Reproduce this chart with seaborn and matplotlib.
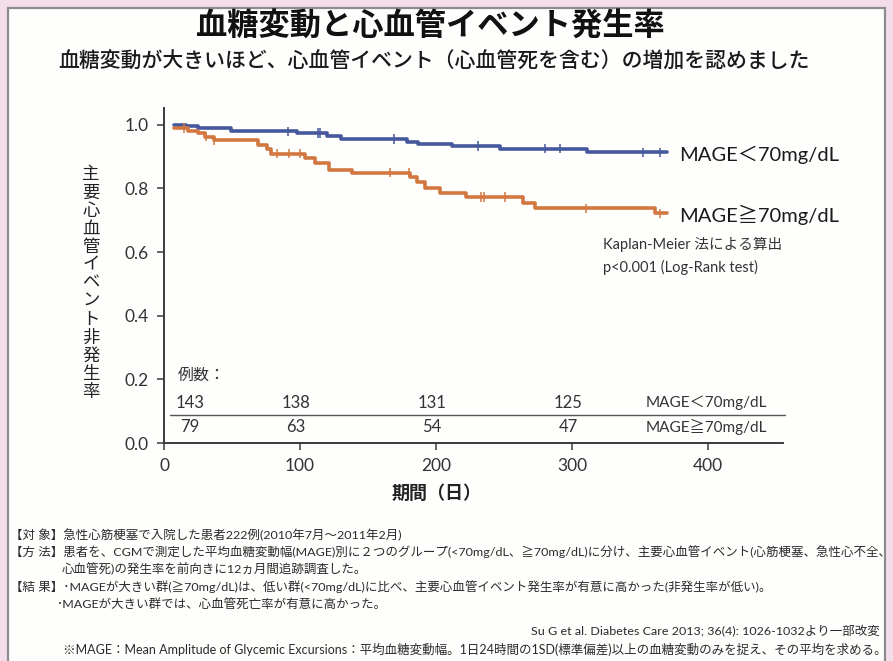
import numpy as np
import pandas as pd
import matplotlib
matplotlib.use("Agg")
import matplotlib.pyplot as plt
import seaborn as sns
from matplotlib.patches import Rectangle
from matplotlib.ticker import FormatStrFormatter

# ---------------- data ----------------
groups = ["MAGE＜70mg/dL", "MAGE≧70mg/dL"]
colors = ["#46589c", "#d2773f"]

low_t = [7, 16, 25, 49, 98, 120, 130, 179, 187, 212, 247, 311, 370]
low_s = [1.0, 0.995, 0.99, 0.98, 0.974, 0.965, 0.956, 0.947, 0.940, 0.934, 0.925, 0.914, 0.914]
high_t = [7, 18, 25, 30, 37, 69, 76, 79, 104, 111, 121, 138, 181, 186, 192, 203, 222, 264, 273, 361, 370]
high_s = [0.99, 0.982, 0.974, 0.963, 0.951, 0.937, 0.923, 0.909, 0.895, 0.88, 0.858, 0.85,
          0.837, 0.819, 0.801, 0.787, 0.773, 0.754, 0.738, 0.722, 0.722]
low_cens = [91, 113, 115, 169, 231, 280, 291, 352, 365]
high_cens = [15, 31, 37, 83, 92, 100, 166, 180, 233, 235, 251, 310, 365]

risk_times = [19, 97, 197, 297]
risk_low = [143, 138, 131, 125]
risk_high = [79, 63, 54, 47]

x_ticks = [0, 100, 200, 300, 400]
y_ticks = [0.0, 0.2, 0.4, 0.6, 0.8, 1.0]

title = "血糖変動と心血管イベント発生率"
subtitle = "血糖変動が大きいほど、心血管イベント（心血管死を含む）の増加を認めました"
ylabel = "主要心血管イベント非発生率"
xlabel = "期間（日）"
km_note = ["Kaplan-Meier 法による算出", "p<0.001 (Log-Rank test)"]
notes = [
    "【対 象】急性心筋梗塞で入院した患者222例(2010年7月～2011年2月)",
    "【方 法】患者を、CGMで測定した平均血糖変動幅(MAGE)別に２つのグループ(<70mg/dL、≧70mg/dL)に分け、主要心血管イベント(心筋梗塞、急性心不全、",
    "心血管死)の発生率を前向きに12ヵ月間追跡調査した。",
    "【結 果】･MAGEが大きい群(≧70mg/dL)は、低い群(<70mg/dL)に比べ、主要心血管イベント発生率が有意に高かった(非発生率が低い)。",
    "･MAGEが大きい群では、心血管死亡率が有意に高かった。",
]
citation = "Su G et al. Diabetes Care 2013; 36(4): 1026-1032より一部改変"
footnote = "※MAGE：Mean Amplitude of Glycemic Excursions：平均血糖変動幅。1日24時間の1SD(標準偏差)以上の血糖変動のみを捉え、その平均を求める。"

# ---------------- frames ----------------
curve = pd.DataFrame({
    "t": low_t + high_t,
    "S": low_s + high_s,
    "group": [groups[0]] * len(low_t) + [groups[1]] * len(high_t),
})

def step_value(ts, ss, x):
    i = np.searchsorted(ts, x, side="right") - 1
    return ss[max(i, 0)]

cens = pd.DataFrame({
    "t": low_cens + high_cens,
    "S": [step_value(low_t, low_s, c) for c in low_cens] + [step_value(high_t, high_s, c) for c in high_cens],
    "group": [groups[0]] * len(low_cens) + [groups[1]] * len(high_cens),
})

# ---------------- style ----------------
sns.set_theme(style="ticks")
plt.rcParams["font.family"] = ["Lato", "Noto Sans CJK JP", "DejaVu Sans"]
plt.rcParams["axes.unicode_minus"] = False

W, H = 893, 661
fig = plt.figure(figsize=(W / 100, H / 100), dpi=100, facecolor="#f3dde9")

def fx(x):
    return x / W

def fy(y):
    return 1 - y / H

# white panel (behind everything)
fig.patches.append(Rectangle((fx(8), -0.02), fx(885 - 8), 1 - 8 / H + 0.02,
                             transform=fig.transFigure, facecolor="#fefefc",
                             edgecolor="#8c8c8c", lw=1.6, zorder=-10))

ax = fig.add_axes([fx(164), fy(443), fx(164 + 455 * 1.36) - fx(164), (443 - 108) / H])
ax.set_facecolor("none")
ax.set_zorder(1)

palette = dict(zip(groups, colors))
sns.lineplot(data=curve, x="t", y="S", hue="group", palette=palette, drawstyle="steps-post",
             estimator=None, sort=False, legend=False, lw=2.6, ax=ax)
sns.scatterplot(data=cens, x="t", y="S", hue="group", palette=palette, marker="|", s=45,
                linewidth=1.1, legend=False, ax=ax, zorder=4)

ax.set_xlim(0, 455)
ax.set_ylim(0, 1.053)
ax.set_xticks(x_ticks)
ax.set_yticks(y_ticks)
ax.yaxis.set_major_formatter(FormatStrFormatter("%.1f"))
ax.set_xlabel("")
ax.set_ylabel("")
sns.despine(ax=ax)
for sp in ("left", "bottom"):
    ax.spines[sp].set_color("#3a3a3a")
    ax.spines[sp].set_linewidth(1.4)
ax.tick_params(axis="both", direction="out", length=5, width=1.1, color="#3a3a3a",
               labelsize=12.5, labelcolor="#333333", pad=6)

# end-of-curve labels
ax.text(379, 0.906, groups[0], fontsize=14.5, color="#1a1a1a", va="center", ha="left")
ax.text(379, 0.717, groups[1], fontsize=14.5, color="#1a1a1a", va="center", ha="left")
ax.text(323, 0.623, km_note[0], fontsize=10.5, color="#333333", va="center", ha="left")
ax.text(323, 0.553, km_note[1], fontsize=10.5, color="#333333", va="center", ha="left")

# number at risk
ax.text(10, 0.211, "例数：", fontsize=11.5, color="#333333", va="center", ha="left")
for t, a, b in zip(risk_times, risk_low, risk_high):
    ax.text(t, 0.126, str(a), fontsize=12, color="#333333", va="center", ha="center")
    ax.text(t, 0.050, str(b), fontsize=12, color="#333333", va="center", ha="center")
ax.text(354, 0.126, groups[0], fontsize=11, color="#333333", va="center", ha="left")
ax.text(354, 0.050, groups[1], fontsize=11, color="#333333", va="center", ha="left")
ax.axhline(0.088, xmin=0.01, xmax=1.003, color="#555555", lw=1.0, clip_on=False)

# titles and axis labels
fig.text(fx(430), fy(26), title, fontsize=22.5, fontweight="bold", ha="center", va="center",
         color="#111111")
fig.text(fx(434), fy(61), subtitle, fontsize=15, fontweight="medium", ha="center", va="center",
         color="#1a1a1a")
fig.text(fx(91), fy(283), "\n".join(ylabel), fontsize=12.5, ha="center",
         va="center", linespacing=1.16, color="#222222")
fig.text(fx(437), fy(493), xlabel, fontsize=13, fontweight="bold", ha="center", va="center",
         color="#222222")

# notes
renderer = fig.canvas.get_renderer()
probe = fig.text(0, 0, notes[1], fontsize=10)
note_fs = 10 * 878 / probe.get_window_extent(renderer).width
probe.remove()
note_pos = [(10, 535), (10, 552), (62, 569), (10, 587), (57, 604)]
for (x0, y0), s in zip(note_pos, notes):
    fig.text(fx(x0), fy(y0), s, fontsize=note_fs, ha="left", va="center", color="#2a2a2a")
fig.text(fx(880), fy(630), citation, fontsize=note_fs, ha="right", va="center", color="#2a2a2a")
f = fig.text(fx(63), fy(649), footnote, fontsize=10, ha="left", va="center", color="#2a2a2a")
f.set_fontsize(10 * 824 / f.get_window_extent(renderer).width)

fig.savefig("out.png", dpi=100, facecolor=fig.get_facecolor())
